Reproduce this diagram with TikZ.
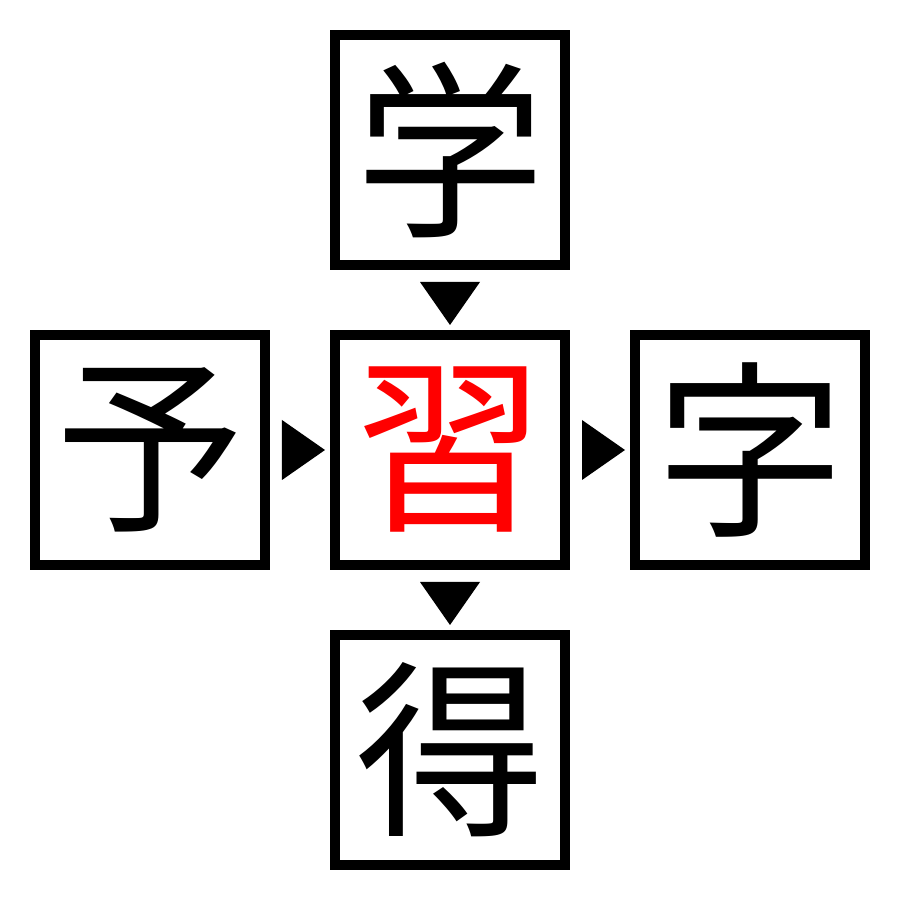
\documentclass[tikz,border=0pt]{standalone}
\usepackage{fontspec}
\newfontfamily\cjk{Noto Sans CJK JP}
\usetikzlibrary{positioning,calc}

\begin{document}
\begin{tikzpicture}[node distance=0.6cm, main/.style = {rectangle, draw=black, line width=0.1cm, minimum size=2.3cm, inner sep=0pt, font=\cjk\fontsize{54}{54}\selectfont}]
			\useasboundingbox (0,0) rectangle (9,9);
			\node[main] (c) at (4.5,4.5) {\textcolor{red}{習}};
			\node[main] (t) [above=of c] {学};
			\node[main] (l) [left=of c] {予};
			\node[main] (r) [right=of c] {字};
			\node[main] (b) [below=of c] {得};
			% triangles between the boxes
			\fill ($(t.south)+(-0.3,-0.12)$) -- ($(t.south)+(0.3,-0.12)$) -- ($(t.south)+(0,-0.55)$) -- cycle;
			\fill ($(c.south)+(-0.3,-0.12)$) -- ($(c.south)+(0.3,-0.12)$) -- ($(c.south)+(0,-0.55)$) -- cycle;
			\fill ($(l.east)+(0.12,0.3)$) -- ($(l.east)+(0.12,-0.3)$) -- ($(l.east)+(0.55,0)$) -- cycle;
			\fill ($(c.east)+(0.12,0.3)$) -- ($(c.east)+(0.12,-0.3)$) -- ($(c.east)+(0.55,0)$) -- cycle;
		\end{tikzpicture}
\end{document}
